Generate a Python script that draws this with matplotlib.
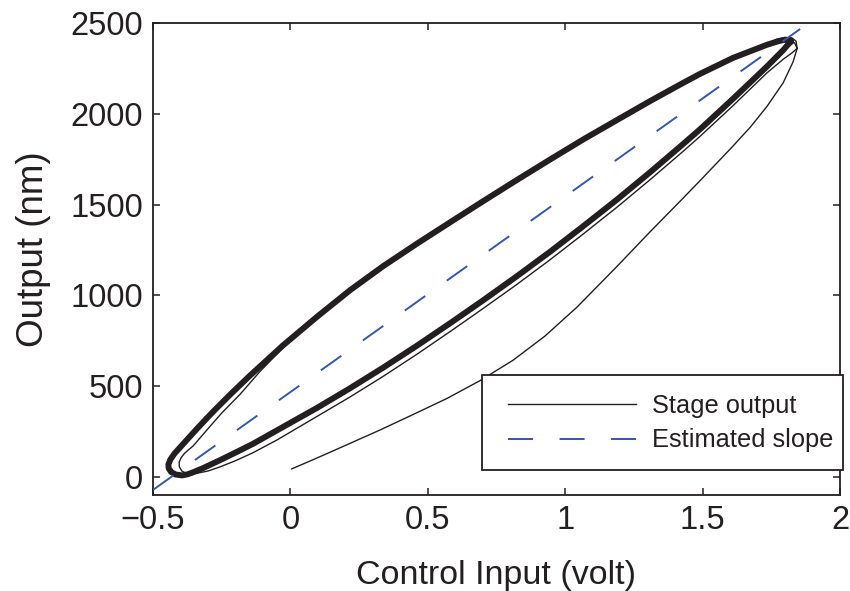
import matplotlib
matplotlib.use("Agg")
import matplotlib.pyplot as plt
from matplotlib.patches import Rectangle

plt.rcParams['font.family'] = ['Liberation Sans', 'DejaVu Sans']

# ---- data ----
# steady-state hysteresis loop (drawn thick), x in volt, y in nm
# ascending (lower) branch, from bottom-left tip to top-right tip
loop_lower_x = [-0.394, -0.374, -0.354, -0.318, -0.256, -0.198, -0.136, -0.049, 0.097,
                0.217, 0.337, 0.461, 0.581, 0.701, 0.825, 0.945, 1.065, 1.189, 1.309,
                1.429, 1.491, 1.611, 1.734, 1.793, 1.810, 1.822]
loop_lower_y = [8, 14, 25, 48, 92, 135, 182, 256, 380, 488, 601, 723, 846, 972, 1106,
                1240, 1380, 1528, 1678, 1833, 1915, 2083, 2260, 2350, 2380, 2398]
# descending (upper) branch, from bottom-left tip to top-right tip
loop_upper_x = [-0.394, -0.418, -0.434, -0.443, -0.444, -0.437, -0.422, -0.398, -0.340,
                -0.282, -0.220, -0.147, -0.027, 0.097, 0.217, 0.337, 0.461, 0.581, 0.701,
                0.825, 0.945, 1.065, 1.189, 1.309, 1.429, 1.491, 1.611, 1.734, 1.776,
                1.800, 1.815, 1.822]
loop_upper_y = [8, 13, 27, 47, 68, 95, 128, 168, 265, 358, 452, 558, 724, 882, 1028, 1160,
                1285, 1402, 1518, 1636, 1748, 1858, 1966, 2070, 2170, 2220, 2308, 2380,
                2400, 2408, 2405, 2398]

# first (transient) cycle, drawn thin
cyc1_upper_x = [-0.380, -0.395, -0.404, -0.405, -0.398, -0.385, -0.370, -0.354, -0.304,
                -0.249, -0.183, -0.111, -0.020, 0.097, 0.217, 0.337, 0.461, 0.581, 0.701,
                0.825, 0.945, 1.065, 1.189, 1.309, 1.429, 1.491, 1.611, 1.734, 1.790,
                1.815, 1.835, 1.844]
cyc1_upper_y = [20, 32, 55, 80, 105, 130, 150, 170, 258, 353, 455, 580, 722, 874, 1021,
                1153, 1278, 1395, 1511, 1629, 1741, 1851, 1959, 2063, 2163, 2213, 2301,
                2374, 2400, 2405, 2390, 2360]
cyc1_lower_x = [-0.380, -0.365, -0.340, -0.300, -0.256, -0.198, -0.136, -0.049, 0.097,
                0.217, 0.337, 0.461, 0.581, 0.701, 0.825, 0.945, 1.065, 1.189, 1.309,
                1.429, 1.491, 1.611, 1.734, 1.793, 1.825, 1.844]
cyc1_lower_y = [20, 16, 20, 32, 55, 90, 133, 203, 333, 440, 553, 676, 800, 927, 1061,
                1196, 1337, 1486, 1637, 1793, 1876, 2045, 2225, 2300, 2335, 2360]

# initial loading curve starting at 0 V
init_x = [0.005, 0.082, 0.206, 0.326, 0.446, 0.570, 0.690, 0.810, 0.926, 1.043, 1.189,
          1.309, 1.429, 1.491, 1.600, 1.673, 1.734, 1.793, 1.829, 1.844, 1.840, 1.825,
          1.800, 1.764]
init_y = [44, 94, 177, 258, 343, 432, 530, 642, 775, 935, 1160, 1350, 1535, 1632, 1805,
          1925, 2040, 2170, 2285, 2360, 2400, 2418, 2420, 2408]

# estimated slope line end points
slope_x = [-0.5, 1.855]
slope_y = [-72, 2467]

x_ticks = [-0.5, 0, 0.5, 1, 1.5, 2]
x_tick_labels = ['\u22120.5', '0', '0.5', '1', '1.5', '2']
y_ticks = [0, 500, 1000, 1500, 2000, 2500]

black = '#231f20'
blue = '#3656ad'

W, H = 850, 591
fig = plt.figure(figsize=(W / 100, H / 100), dpi=100)
ax = fig.add_axes([153 / W, 1 - 495 / H, 687 / W, 472 / H])

ax.plot(loop_upper_x[::-1] + loop_lower_x, loop_upper_y[::-1] + loop_lower_y,
        color=black, lw=4.3, solid_joinstyle='round', solid_capstyle='round', zorder=3)
ax.plot(cyc1_upper_x[::-1] + cyc1_lower_x, cyc1_upper_y[::-1] + cyc1_lower_y,
        color=black, lw=1.0, zorder=3)
stage, = ax.plot(init_x, init_y, color=black, lw=1.0, zorder=3, label='Stage output')

slope_line, = ax.plot(slope_x, slope_y, color=blue, lw=1.4, zorder=4,
                      label='Estimated slope')
slope_line.set_dashes((12.9, 13.6))

ax.set_xlim(-0.5, 2)
ax.set_ylim(-100, 2500)
ax.set_xticks(x_ticks)
ax.set_xticklabels(x_tick_labels)
ax.set_yticks(y_ticks)
ax.tick_params(direction='in', length=5, width=1.1, labelsize=23.5, top=True, right=True,
               pad=7, colors=black)
for s in ax.spines.values():
    s.set_linewidth(1.3)
    s.set_color(black)

ax.set_xlabel('Control Input (volt)', fontsize=24.5, color=black)
ax.set_ylabel('Output (nm)', fontsize=26.5, color=black)
ax.xaxis.set_label_coords(0.5, -0.138)
ax.yaxis.set_label_coords(-0.148, 0.52)

# legend frame (extends slightly past the axes, as in the reference)
frame = Rectangle((482 / W, 1 - 470 / H), 361 / W, 95 / H, transform=fig.transFigure,
                  facecolor='white', edgecolor=black, linewidth=1.3, zorder=5)
fig.patches.append(frame)

leg = fig.legend(handles=[stage, slope_line], loc='center left',
                 bbox_to_anchor=(508 / W, 1 - 423 / H), bbox_transform=fig.transFigure,
                 fontsize=18.3, frameon=False, handlelength=5.04, handletextpad=0.63,
                 borderpad=0, labelspacing=0.43, borderaxespad=0)
leg.set_zorder(6)
for t in leg.get_texts():
    t.set_color(black)

fig.savefig('out.png', dpi=100, facecolor='white')
